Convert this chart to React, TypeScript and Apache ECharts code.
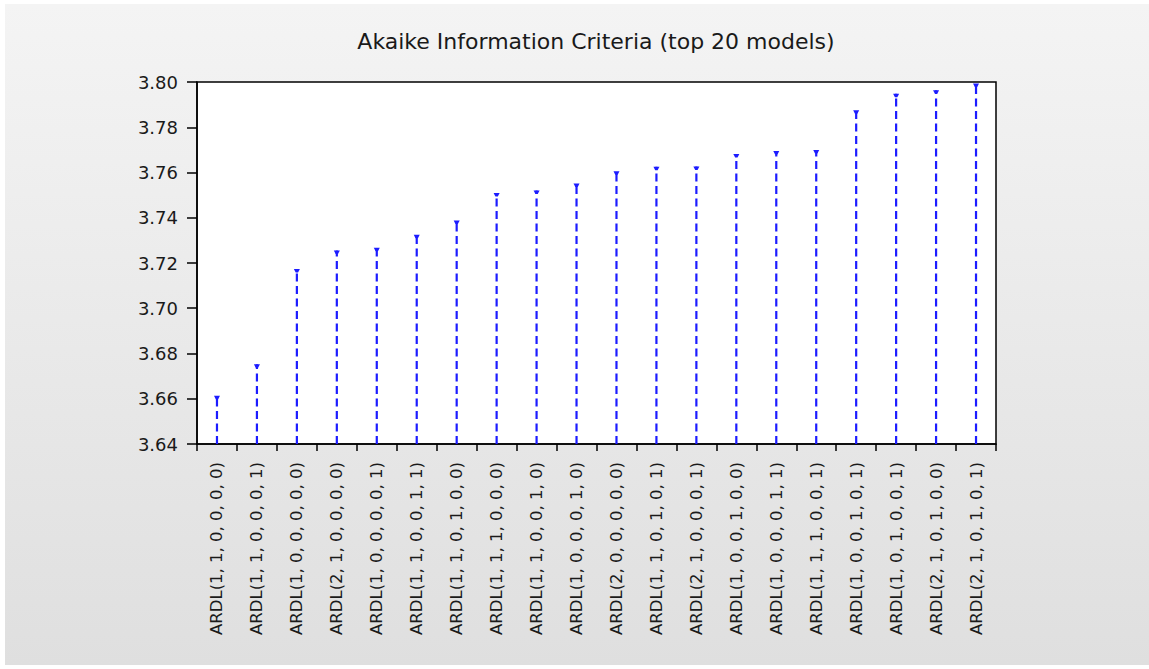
import React, { useEffect, useRef } from "react";
import * as echarts from "echarts";

// Model specifications, ordered by Akaike criterion (lowest first)
const models: string[] = [
  "ARDL(1, 1, 0, 0, 0, 0)",
  "ARDL(1, 1, 0, 0, 0, 1)",
  "ARDL(1, 0, 0, 0, 0, 0)",
  "ARDL(2, 1, 0, 0, 0, 0)",
  "ARDL(1, 0, 0, 0, 0, 1)",
  "ARDL(1, 1, 0, 0, 1, 1)",
  "ARDL(1, 1, 0, 1, 0, 0)",
  "ARDL(1, 1, 1, 0, 0, 0)",
  "ARDL(1, 1, 0, 0, 1, 0)",
  "ARDL(1, 0, 0, 0, 1, 0)",
  "ARDL(2, 0, 0, 0, 0, 0)",
  "ARDL(1, 1, 0, 1, 0, 1)",
  "ARDL(2, 1, 0, 0, 0, 1)",
  "ARDL(1, 0, 0, 1, 0, 0)",
  "ARDL(1, 0, 0, 0, 1, 1)",
  "ARDL(1, 1, 1, 0, 0, 1)",
  "ARDL(1, 0, 0, 1, 0, 1)",
  "ARDL(1, 0, 1, 0, 0, 1)",
  "ARDL(2, 1, 0, 1, 0, 0)",
  "ARDL(2, 1, 0, 1, 0, 1)",
];

// Akaike information criterion for each model
const aic: number[] = [
  3.6613, 3.6752, 3.7174, 3.7255, 3.7267, 3.7325, 3.7388, 3.7509, 3.752, 3.7551,
  3.7605, 3.7625, 3.7627, 3.7682, 3.7695, 3.77, 3.7875, 3.7948, 3.7964, 3.7993,
];

const yMin = 3.64;
const yMax = 3.8;
const yStep = 0.02;

const chartTitle = "Akaike Information Criteria (top 20 models)";

const FONT = "DejaVu Sans";
const TEXT = "#1a1a1a";
const STEM = "#1c1cff";

export default function App() {
  const ref = useRef<HTMLDivElement>(null);

  useEffect(() => {
    if (!ref.current) return;
    const chart = echarts.init(ref.current, null, { renderer: "svg" });
    chart.setOption({
      animation: false,
      backgroundColor: "#ffffff",
      graphic: [
        {
          type: "rect",
          z: -10,
          silent: true,
          shape: { x: 5, y: 4, width: 1144, height: 661 },
          style: {
            fill: new echarts.graphic.LinearGradient(0, 0, 0, 1, [
              { offset: 0, color: "#f4f4f4" },
              { offset: 1, color: "#dfdfdf" },
            ]),
          },
        },
      ],
      title: {
        text: chartTitle,
        left: 596,
        top: 30,
        padding: 0,
        textAlign: "center",
        textStyle: {
          fontFamily: FONT,
          fontSize: 22,
          fontWeight: "normal",
          color: TEXT,
        },
      },
      grid: {
        left: 197,
        right: 153,
        top: 82,
        bottom: 225,
        show: true,
        backgroundColor: "#ffffff",
        borderColor: "#000000",
        borderWidth: 1.5,
      },
      xAxis: {
        type: "category",
        data: models,
        axisLine: { show: true, lineStyle: { color: "#000000", width: 1.5 } },
        axisTick: { show: true, length: 7, lineStyle: { color: "#000000", width: 1.5 } },
        axisLabel: {
          rotate: 90,
          margin: 18,
          interval: 0,
          fontFamily: FONT,
          fontSize: 16.5,
          color: TEXT,
        },
        splitLine: { show: false },
      },
      yAxis: {
        type: "value",
        min: yMin,
        max: yMax,
        interval: yStep,
        axisLine: { show: true, lineStyle: { color: "#000000", width: 1.5 } },
        axisTick: { show: true, length: 10, lineStyle: { color: "#000000", width: 1.5 } },
        axisLabel: {
          margin: 19,
          fontFamily: FONT,
          fontSize: 18,
          color: TEXT,
          formatter: (v: number) => v.toFixed(2),
        },
        splitLine: { show: false },
      },
      series: [
        {
          type: "custom",
          data: aic.map((v, i) => [i, v]),
          renderItem: (params: any, api: any) => {
            const base = api.coord([api.value(0), yMin]);
            const top = api.coord([api.value(0), api.value(1)]);
            return {
              type: "group",
              children: [
                {
                  type: "line",
                  shape: { x1: base[0], y1: base[1], x2: top[0], y2: top[1] },
                  style: { stroke: STEM, lineWidth: 2.2, lineDash: [8, 4.5] },
                },
                {
                  type: "polygon",
                  shape: {
                    points: [
                      [top[0] - 3, top[1]],
                      [top[0] + 3, top[1]],
                      [top[0] + 1.2, top[1] + 3.5],
                      [top[0] - 1.2, top[1] + 3.5],
                    ],
                  },
                  style: { fill: STEM },
                },
              ],
            };
          },
        },
      ],
    });
    return () => chart.dispose();
  }, []);

  return (
    <div
      ref={ref}
      style={{ position: "absolute", left: 0, top: 0, width: 1149, height: 669 }}
    />
  );
}
